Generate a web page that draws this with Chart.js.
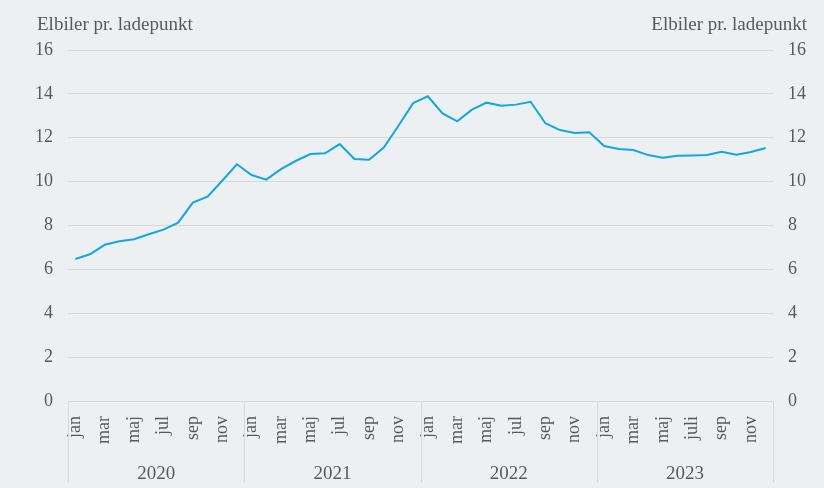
<!DOCTYPE html>
<html>
<head>
<meta charset="utf-8">
<script src="https://cdn.jsdelivr.net/npm/chart.js@4.4.0/dist/chart.umd.min.js"></script>
<style>
  html, body { margin: 0; padding: 0; background: #edf0f3; }
  #wrap { width: 824px; height: 488px; }
</style>
</head>
<body>
<div id="wrap"><canvas id="c" width="824" height="488"></canvas></div>
<script>
// -- Data ------------------------------------------------------------------

const years = ['2020', '2021', '2022', '2023'];
const months = ['jan', 'feb', 'mar', 'apr', 'maj', 'jun', 'jul', 'aug', 'sep', 'okt', 'nov', 'dec'];
const months2023 = ['jan', 'feb', 'mar', 'apr', 'maj', 'jun', 'juli', 'aug', 'sep', 'okt', 'nov', 'dec'];

const monthLabels = [...months, ...months, ...months, ...months2023];

const elbilerPrLadepunkt = [
  // 2020
  6.47, 6.69, 7.12, 7.28, 7.37, 7.60, 7.81, 8.13, 9.04, 9.31, 10.04, 10.79,
  // 2021
  10.30, 10.09, 10.57, 10.94, 11.26, 11.29, 11.71, 11.03, 11.00, 11.55, 12.55, 13.58,
  // 2022
  13.89, 13.11, 12.75, 13.28, 13.60, 13.46, 13.51, 13.64, 12.66, 12.35, 12.22, 12.25,
  // 2023
  11.62, 11.49, 11.44, 11.21, 11.09, 11.18, 11.19, 11.21, 11.36, 11.23, 11.35, 11.53,
];

const yTicks = [0, 2, 4, 6, 8, 10, 12, 14, 16];
const axisTitle = 'Elbiler pr. ladepunkt';

// -- Styling ---------------------------------------------------------------

const FONT = 'Liberation Serif';
const TEXT = '#595959';
const GRID = '#d9d9d9';
const LINE = '#14a6de';
const BG = '#edf0f3';

// -- Plugins ---------------------------------------------------------------

const background = {
  id: 'background',
  beforeDraw(chart) {
    const { ctx, width, height } = chart;
    ctx.save();
    ctx.fillStyle = BG;
    ctx.fillRect(0, 0, width, height);
    ctx.restore();
  },
};

// year separators + year labels under the month ticks, titles on top
const yearAxis = {
  id: 'yearAxis',
  afterDraw(chart) {
    const { ctx, chartArea } = chart;
    const x = chart.scales.x;
    const bottom = chartArea.bottom + 81;
    ctx.save();
    ctx.strokeStyle = GRID;
    ctx.lineWidth = 1;
    const edges = [];
    for (let i = 0; i <= years.length; i++) {
      const idx = i * 12;
      let px;
      if (i === 0) px = chartArea.left;
      else if (i === years.length) px = chartArea.right;
      else px = (x.getPixelForValue(idx - 1) + x.getPixelForValue(idx)) / 2;
      edges.push(px);
      ctx.beginPath();
      ctx.moveTo(Math.round(px) + 0.5, chartArea.bottom);
      ctx.lineTo(Math.round(px) + 0.5, bottom);
      ctx.stroke();
    }
    ctx.fillStyle = TEXT;
    ctx.font = '19px "' + FONT + '"';
    ctx.textAlign = 'center';
    ctx.textBaseline = 'middle';
    years.forEach((y, i) => {
      ctx.fillText(y, (edges[i] + edges[i + 1]) / 2, chartArea.bottom + 73);
    });

    ctx.textBaseline = 'alphabetic';
    ctx.font = '19px "' + FONT + '"';
    ctx.textAlign = 'left';
    ctx.fillText(axisTitle, 37, 30);
    ctx.textAlign = 'right';
    ctx.fillText(axisTitle, 807, 30);
    ctx.restore();
  },
};

// -- Chart -----------------------------------------------------------------

const yAxisBase = {
  min: 0,
  max: 16,
  afterBuildTicks(scale) {
    scale.ticks = yTicks.map((v) => ({ value: v }));
  },
  border: { display: false },
  ticks: {
    color: TEXT,
    padding: 15,
    font: { family: FONT, size: 18 },
  },
};

new Chart(document.getElementById('c'), {
  type: 'line',
  data: {
    labels: monthLabels,
    datasets: [
      {
        data: elbilerPrLadepunkt,
        borderColor: LINE,
        backgroundColor: LINE,
        borderWidth: 2,
        pointRadius: 0,
        tension: 0,
        yAxisID: 'y',
      },
    ],
  },
  options: {
    responsive: false,
    animation: false,
    layout: { padding: { top: 50, left: 0, right: 0, bottom: 0 } },
    plugins: {
      legend: { display: false },
      tooltip: { enabled: false },
    },
    scales: {
      x: {
        offset: true,
        grid: { display: false },
        border: { display: false },
        afterFit(scale) { scale.height = 87; },
        ticks: {
          color: TEXT,
          autoSkip: false,
          minRotation: 90,
          maxRotation: 90,
          padding: 7,
          font: { family: FONT, size: 18 },
          callback(value, index) {
            return index % 2 === 0 ? monthLabels[index] : '';
          },
        },
      },
      y: {
        ...yAxisBase,
        position: 'left',
        afterFit(scale) { scale.width = 68; },
        grid: { color: GRID, drawTicks: false },
      },
      y2: {
        ...yAxisBase,
        position: 'right',
        afterFit(scale) { scale.width = 51; },
        grid: { display: false, drawTicks: false },
      },
    },
  },
  plugins: [background, yearAxis],
});
</script>
</body>
</html>
